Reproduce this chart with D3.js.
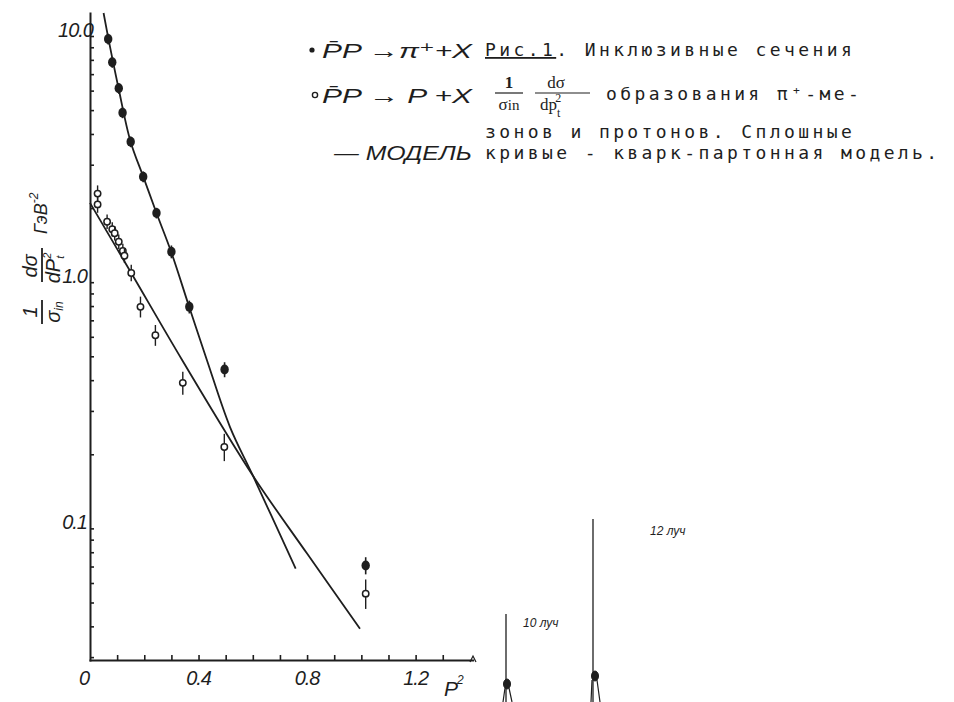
<!DOCTYPE html>
<html>
<head>
<meta charset="utf-8">
<script src="https://cdn.jsdelivr.net/npm/d3@7"></script>
<style>
  body { margin: 0; background: #fff; }
  text { fill: #1e1e1e; }
</style>
</head>
<body>
<svg id="fig" width="954" height="702"></svg>
<script>
// pbar p -> pi+ X  (filled points)
var piX = [0.067, 0.082, 0.106, 0.120, 0.150, 0.196, 0.245, 0.300, 0.366, 0.496, 1.016];
var piY = [9.72, 7.82, 6.13, 4.88, 3.72, 2.68, 1.91, 1.33, 0.794, 0.442, 0.0707];
var piErr = [0.05, 0.05, 0.05, 0.05, 0.05, 0.05, 0.05, 0.06, 0.06, 0.07, 0.08];

// pbar p -> p X  (open points)
var prX = [0.028, 0.028, 0.063, 0.082, 0.091, 0.106, 0.121, 0.127, 0.152, 0.186, 0.241, 0.342, 0.495, 1.016];
var prY = [2.29, 2.07, 1.76, 1.64, 1.58, 1.46, 1.34, 1.28, 1.09, 0.794, 0.609, 0.390, 0.214, 0.0543];
var prErr = [0.04, 0.04, 0.03, 0.03, 0.03, 0.03, 0.03, 0.03, 0.04, 0.06, 0.06, 0.07, 0.09, 0.10];

// quark-parton model curves
var modelPiX = [0.05, 0.068, 0.105, 0.149, 0.197, 0.245, 0.300, 0.366, 0.431, 0.516, 0.600, 0.758];
var modelPiY = [12.4, 9.73, 6.15, 3.74, 2.67, 1.91, 1.32, 0.791, 0.482, 0.258, 0.164, 0.0686];
var modelPrX = [0, 0.152, 0.34, 0.60, 0.80, 0.995];
var modelPrY = [2.10, 1.09, 0.482, 0.164, 0.079, 0.0391];

// ticks
var xTicks = d3.range(1, 14).map(function(d) { return d / 10; });
var xTickLabels = [0.4, 0.8, 1.2];
var yTicks = [0.03, 0.04, 0.05, 0.06, 0.07, 0.08, 0.09,
              0.1, 0.2, 0.3, 0.4, 0.5, 0.6, 0.7, 0.8, 0.9,
              1, 2, 3, 4, 5, 6, 7, 8, 9, 10];
var yTickLabels = [0.1, 1, 10];
var yLabelText = ["0.1", "1.0", "10.0"];

var ink = "#1e1e1e";
var hand = "'Liberation Sans', 'DejaVu Sans', sans-serif";
var mono = "'DejaVu Sans Mono', 'Liberation Mono', monospace";
var serif = "'Liberation Serif', 'DejaVu Serif', serif";

var svg = d3.select("#fig");

var x = d3.scaleLinear().domain([0, 1.41]).range([90, 472.6]);
var y = d3.scaleLog().domain([0.0292, 12.4]).range([660, 13]);

// axes, ticks pointing inside
var xAxis = svg.append("g")
  .attr("transform", "translate(0,660)")
  .call(d3.axisBottom(x).tickValues(xTicks).tickSizeInner(-5).tickSizeOuter(0).tickFormat(""));
var yAxis = svg.append("g")
  .attr("transform", "translate(90,0)")
  .call(d3.axisLeft(y).tickValues(yTicks).tickSizeInner(-4).tickSizeOuter(0).tickFormat(""));
[xAxis, yAxis].forEach(function(a) {
  a.select(".domain").attr("stroke", ink).attr("stroke-width", 2).attr("stroke-linecap", "square");
  a.selectAll(".tick line").attr("stroke", ink).attr("stroke-width", 1.6);
});

// tick labels
var labels = svg.append("g").attr("font-family", hand).attr("font-style", "italic")
  .attr("font-size", 20).attr("letter-spacing", -1);
labels.append("text").attr("x", x(0) - 6).attr("y", 685).attr("text-anchor", "middle").text("0");
labels.selectAll(".xl").data(xTickLabels).enter().append("text")
  .attr("x", function(d) { return x(d); }).attr("y", 685)
  .attr("text-anchor", "middle")
  .text(function(d) { return d.toFixed(1); });
labels.selectAll(".yl").data(yTickLabels).enter().append("text")
  .attr("x", function(d, i) { return i == 2 ? 93 : 87; })
  .attr("y", function(d) { return y(d) + 1; })
  .attr("text-anchor", "end")
  .text(function(d, i) { return yLabelText[i]; });

// x axis title P_t^2
var xt = labels.append("text").attr("x", 444).attr("y", 696).attr("font-size", 21);
xt.append("tspan").text("P");
xt.append("tspan").attr("font-size", 12).attr("dy", -12).text("2");

// y axis title, rotated
var yt = svg.append("g").attr("transform", "translate(42,332) rotate(-90)")
  .attr("font-family", hand).attr("font-style", "italic");
yt.append("text").attr("x", 20).attr("y", -5).attr("text-anchor", "middle").attr("font-size", 20).text("1");
yt.append("line").attr("x1", 8).attr("x2", 32).attr("y1", 0).attr("y2", 0).attr("stroke", ink).attr("stroke-width", 1.8);
var sin = yt.append("text").attr("x", 20).attr("y", 18).attr("text-anchor", "middle").attr("font-size", 20);
sin.append("tspan").text("σ");
sin.append("tspan").attr("font-size", 12).attr("dy", 3).text("in");
yt.append("text").attr("x", 66).attr("y", -5).attr("text-anchor", "middle").attr("font-size", 20).text("dσ");
yt.append("line").attr("x1", 50).attr("x2", 84).attr("y1", 0).attr("y2", 0).attr("stroke", ink).attr("stroke-width", 1.8);
var dp = yt.append("text").attr("x", 64).attr("y", 18).attr("text-anchor", "middle").attr("font-size", 20);
dp.append("tspan").text("dP");
dp.append("tspan").attr("font-size", 11).attr("dy", -9).text("2");
dp.append("tspan").attr("font-size", 11).attr("dx", -6).attr("dy", 13).text("t");
var gev = yt.append("text").attr("x", 98).attr("y", 5).attr("font-size", 18);
gev.append("tspan").text("ГэВ");
gev.append("tspan").attr("font-size", 12).attr("dy", -9).text("-2");

// model curves
var line = d3.line()
  .x(function(d) { return x(d[0]); })
  .y(function(d) { return y(d[1]); })
  .curve(d3.curveCatmullRom.alpha(0.5));
svg.append("path").datum(d3.zip(modelPiX, modelPiY)).attr("d", line)
  .attr("fill", "none").attr("stroke", ink).attr("stroke-width", 1.8);
svg.append("path").datum(d3.zip(modelPrX, modelPrY)).attr("d", line)
  .attr("fill", "none").attr("stroke", ink).attr("stroke-width", 1.8);

// data points with error bars
var pi = svg.append("g").selectAll("g").data(d3.zip(piX, piY, piErr)).enter().append("g");
pi.append("line")
  .attr("x1", function(d) { return x(d[0]); }).attr("x2", function(d) { return x(d[0]); })
  .attr("y1", function(d) { return y(d[1] * (1 + d[2])); })
  .attr("y2", function(d) { return y(d[1] * (1 - d[2])); })
  .attr("stroke", ink).attr("stroke-width", 1.6);
pi.append("ellipse")
  .attr("cx", function(d) { return x(d[0]); }).attr("cy", function(d) { return y(d[1]); })
  .attr("rx", 4.2).attr("ry", 5).attr("fill", ink);

var pr = svg.append("g").selectAll("g").data(d3.zip(prX, prY, prErr)).enter().append("g");
pr.append("line")
  .attr("x1", function(d) { return x(d[0]); }).attr("x2", function(d) { return x(d[0]); })
  .attr("y1", function(d) { return y(d[1] * (1 + d[2])) - 4; })
  .attr("y2", function(d) { return y(d[1] * (1 - d[2])) + 4; })
  .attr("stroke", ink).attr("stroke-width", 1.4);
pr.append("circle")
  .attr("cx", function(d) { return x(d[0]); }).attr("cy", function(d) { return y(d[1]); })
  .attr("r", 3.2).attr("fill", "#fff").attr("stroke", ink).attr("stroke-width", 1.5);

// legend (hand lettered)
var leg = svg.append("g").attr("font-family", hand).attr("font-style", "italic").attr("font-size", 21);
leg.append("circle").attr("cx", 312).attr("cy", 50).attr("r", 2.6).attr("fill", ink);
leg.append("text").attr("x", 322).attr("y", 58).attr("textLength", 150).attr("lengthAdjust", "spacingAndGlyphs")
  .text("P̄P →π⁺+X");
leg.append("circle").attr("cx", 315).attr("cy", 95).attr("r", 2.6).attr("fill", "none").attr("stroke", ink).attr("stroke-width", 1.4);
leg.append("text").attr("x", 322).attr("y", 103).attr("textLength", 150).attr("lengthAdjust", "spacingAndGlyphs")
  .text("P̄P → P  +X");
leg.append("text").attr("x", 334).attr("y", 160).attr("textLength", 138).attr("lengthAdjust", "spacingAndGlyphs")
  .text("— МОДЕЛЬ");

// caption (typewriter)
var cap = svg.append("g").attr("font-family", mono).attr("font-size", 18).attr("letter-spacing", 3.4);
var c1 = cap.append("text").attr("x", 485).attr("y", 56);
c1.append("tspan").attr("text-decoration", "underline").text("Рис.1");
c1.append("tspan").text(". Инклюзивные сечения");
cap.append("text").attr("x", 606).attr("y", 100).text("образования  π⁺-ме-");
cap.append("text").attr("x", 485).attr("y", 138).text("зонов и протонов. Сплошные");
cap.append("text").attr("x", 485).attr("y", 159).text("кривые - кварк-партонная модель.");

// formula 1/sigma_in dsigma/dp_t^2
var f = svg.append("g").attr("font-family", serif).attr("font-size", 17);
f.append("text").attr("x", 509).attr("y", 88).attr("text-anchor", "middle").attr("font-weight", "bold").text("1");
f.append("line").attr("x1", 495).attr("x2", 523).attr("y1", 93).attr("y2", 93).attr("stroke", ink).attr("stroke-width", 1.2);
var fs = f.append("text").attr("x", 509).attr("y", 110).attr("text-anchor", "middle");
fs.append("tspan").text("σ");
fs.append("tspan").attr("font-size", 15).text("in");
f.append("text").attr("x", 556).attr("y", 88).attr("text-anchor", "middle").text("dσ");
f.append("line").attr("x1", 535).attr("x2", 590).attr("y1", 93).attr("y2", 93).attr("stroke", ink).attr("stroke-width", 1.2);
var fd = f.append("text").attr("x", 540).attr("y", 110);
fd.append("tspan").text("dp");
fd.append("tspan").attr("font-size", 12).attr("dy", 7).text("t");
fd.append("tspan").attr("font-size", 12).attr("dx", -5).attr("dy", -15).text("2");

// fragments of the neighbouring figure at the bottom
var frag = svg.append("g").attr("stroke", ink);
frag.append("line").attr("x1", 506).attr("x2", 506).attr("y1", 614).attr("y2", 702).attr("stroke-width", 1.3);
frag.append("line").attr("x1", 593).attr("x2", 593).attr("y1", 519).attr("y2", 702).attr("stroke-width", 1.3);
frag.append("ellipse").attr("cx", 507).attr("cy", 684).attr("rx", 3.5).attr("ry", 5).attr("fill", ink);
frag.append("ellipse").attr("cx", 595).attr("cy", 676).attr("rx", 3.5).attr("ry", 5).attr("fill", ink);
frag.append("path").attr("d", "M505,688 L503,702 M509,688 L512,702 M592,680 L591,702 M597,680 L600,702")
  .attr("fill", "none").attr("stroke-width", 1.2);
frag.append("path").attr("d", "M470,662 L473,656 L476,662").attr("fill", "none").attr("stroke-width", 1.2);
var fl = svg.append("g").attr("font-family", hand).attr("font-style", "italic").attr("font-size", 12);
fl.append("text").attr("x", 523).attr("y", 627).text("10 луч");
fl.append("text").attr("x", 650).attr("y", 535).attr("fill", "#444").text("12 луч");
</script>
</body>
</html>
